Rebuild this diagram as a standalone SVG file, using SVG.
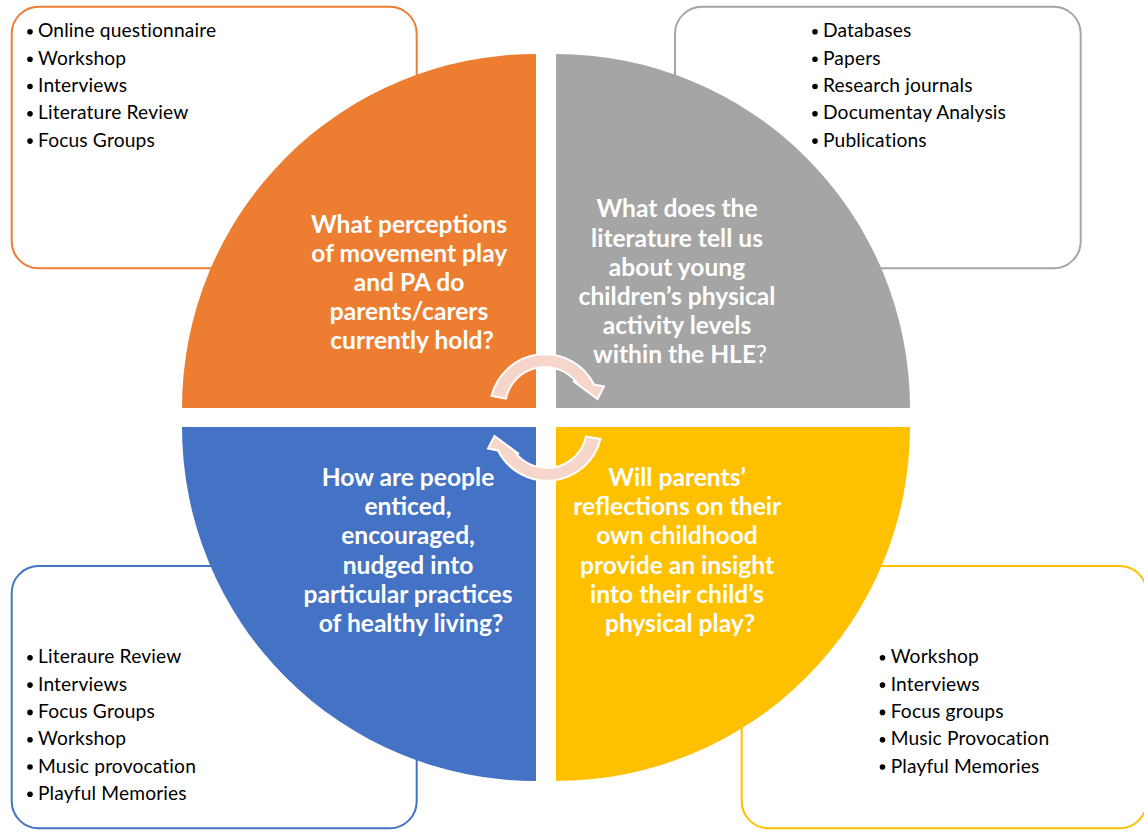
<svg xmlns="http://www.w3.org/2000/svg" xmlns:xlink="http://www.w3.org/1999/xlink" width="1144" height="832" viewBox="0 0 1144 832">
  <style>
    .box { fill: #FFFFFF; stroke-width: 2; }
    .q-text { font-family: Lato, "Liberation Sans", sans-serif; font-weight: 700; font-size: 24.6px; fill: #FFFFFF; text-anchor: middle; }
    .q-text .plain { font-weight: 400; }
    .list { font-family: Lato, "Liberation Sans", sans-serif; font-size: 19.2px; letter-spacing: 0.15px; fill: #000000; }
    .dot { fill: #000000; }
    .arrow { fill: #F6D6CB; stroke: #FFFFFF; stroke-width: 2; stroke-linejoin: miter; }
  </style>
  <defs>
    <!-- curved arrow linking neighbouring quadrants -->
    <path id="cycleArrow" class="arrow" d="M 491.5 396 A 55 55 0 0 1 594 384.5 L 604 386.5 L 597.5 399 L 573 381 L 577.5 383.5 A 40 40 0 0 0 506 398.5 Z"/>
  </defs>

  <rect width="1144" height="832" fill="#FFFFFF"/>

  <!-- method boxes (drawn first so the circle sits over them) -->
  <g id="methods-perceptions">
    <rect class="box" x="11.7" y="6.7" width="405" height="261.6" rx="27" ry="27" stroke="#ED7D31"/>
    <g class="dot">
      <circle cx="30" cy="31.7" r="2.8"/><circle cx="30" cy="59.2" r="2.8"/><circle cx="30" cy="86.5" r="2.8"/><circle cx="30" cy="113.8" r="2.8"/><circle cx="30" cy="141.1" r="2.8"/>
    </g>
    <text class="list">
      <tspan x="38" y="37.3">Online questionnaire</tspan>
      <tspan x="38" y="64.8">Workshop</tspan>
      <tspan x="38" y="92.1">Interviews</tspan>
      <tspan x="38" y="119.4">Literature Review</tspan>
      <tspan x="38" y="146.7">Focus Groups</tspan>
    </text>
  </g>

  <g id="methods-literature">
    <rect class="box" x="675" y="6.7" width="405.7" height="261.6" rx="27" ry="27" stroke="#A5A5A5"/>
    <g class="dot">
      <circle cx="815" cy="31.7" r="2.8"/><circle cx="815" cy="59.2" r="2.8"/><circle cx="815" cy="86.5" r="2.8"/><circle cx="815" cy="113.8" r="2.8"/><circle cx="815" cy="141.1" r="2.8"/>
    </g>
    <text class="list">
      <tspan x="823" y="37.3">Databases</tspan>
      <tspan x="823" y="64.8">Papers</tspan>
      <tspan x="823" y="92.1">Research journals</tspan>
      <tspan x="823" y="119.4">Documentay Analysis</tspan>
      <tspan x="823" y="146.7">Publications</tspan>
    </text>
  </g>

  <g id="methods-nudging">
    <rect class="box" x="11.7" y="566" width="405" height="262.3" rx="27" ry="27" stroke="#4472C4"/>
    <g class="dot">
      <circle cx="30" cy="657.7" r="2.8"/><circle cx="30" cy="685.1" r="2.8"/><circle cx="30" cy="712.4" r="2.8"/><circle cx="30" cy="739.7" r="2.8"/><circle cx="30" cy="767" r="2.8"/><circle cx="30" cy="794.3" r="2.8"/>
    </g>
    <text class="list">
      <tspan x="38" y="663.3">Literaure Review</tspan>
      <tspan x="38" y="690.7">Interviews</tspan>
      <tspan x="38" y="718">Focus Groups</tspan>
      <tspan x="38" y="745.3">Workshop</tspan>
      <tspan x="38" y="772.6">Music provocation</tspan>
      <tspan x="38" y="799.9">Playful Memories</tspan>
    </text>
  </g>

  <g id="methods-reflections">
    <rect class="box" x="741.7" y="566" width="405" height="262.3" rx="27" ry="27" stroke="#FFC000"/>
    <g class="dot">
      <circle cx="882.5" cy="657.7" r="2.8"/><circle cx="882.5" cy="685.1" r="2.8"/><circle cx="882.5" cy="712.4" r="2.8"/><circle cx="882.5" cy="739.7" r="2.8"/><circle cx="882.5" cy="767" r="2.8"/>
    </g>
    <text class="list">
      <tspan x="890.7" y="663.3">Workshop</tspan>
      <tspan x="890.7" y="690.7">Interviews</tspan>
      <tspan x="890.7" y="718">Focus groups</tspan>
      <tspan x="890.7" y="745.3">Music Provocation</tspan>
      <tspan x="890.7" y="772.6">Playful Memories</tspan>
    </text>
  </g>

  <!-- four quarter-circle research questions -->
  <g id="question-perceptions">
    <path d="M 536 408 L 182 408 A 354 354 0 0 1 536 54 Z" fill="#ED7D31"/>
    <text class="q-text">
      <tspan x="412" y="233.3">What perceptions</tspan>
      <tspan x="412" y="262.3">of movement play</tspan>
      <tspan x="412" y="291.3">and PA do</tspan>
      <tspan x="412" y="320.3">parents/carers</tspan>
      <tspan x="412" y="349.3">currently hold?</tspan>
    </text>
  </g>

  <g id="question-literature">
    <path d="M 556 408 L 556 54 A 354 354 0 0 1 910 408 Z" fill="#A5A5A5"/>
    <text class="q-text">
      <tspan x="680" y="217.3">What does the</tspan>
      <tspan x="680" y="246.5">literature tell us</tspan>
      <tspan x="680" y="275.7">about young</tspan>
      <tspan x="680" y="304.9">children’s physical</tspan>
      <tspan x="680" y="334.1">activity levels</tspan>
      <tspan x="680" y="363.3">within the HLE<tspan class="plain">?</tspan></tspan>
    </text>
  </g>

  <g id="question-nudging">
    <path d="M 536 427 L 536 781 A 354 354 0 0 1 182 427 Z" fill="#4472C4"/>
    <text class="q-text">
      <tspan x="411" y="486">How are people</tspan>
      <tspan x="411" y="515.2">enticed,</tspan>
      <tspan x="411" y="544.4">encouraged,</tspan>
      <tspan x="411" y="573.6">nudged into</tspan>
      <tspan x="411" y="602.8">particular practices</tspan>
      <tspan x="411" y="632">of healthy living?</tspan>
    </text>
  </g>

  <g id="question-reflections">
    <path d="M 556 427 L 910 427 A 354 354 0 0 1 556 781 Z" fill="#FFC000"/>
    <text class="q-text">
      <tspan x="680" y="486">Will parents’</tspan>
      <tspan x="680" y="515.2">reflections on their</tspan>
      <tspan x="680" y="544.4">own childhood</tspan>
      <tspan x="680" y="573.6">provide an insight</tspan>
      <tspan x="680" y="602.8">into their child’s</tspan>
      <tspan x="680" y="632">physical play?</tspan>
    </text>
  </g>

  <!-- cycle arrows in the centre -->
  <g id="connectors">
    <use xlink:href="#cycleArrow"/>
    <use xlink:href="#cycleArrow" transform="rotate(180 546 417.5)"/>
  </g>
</svg>
